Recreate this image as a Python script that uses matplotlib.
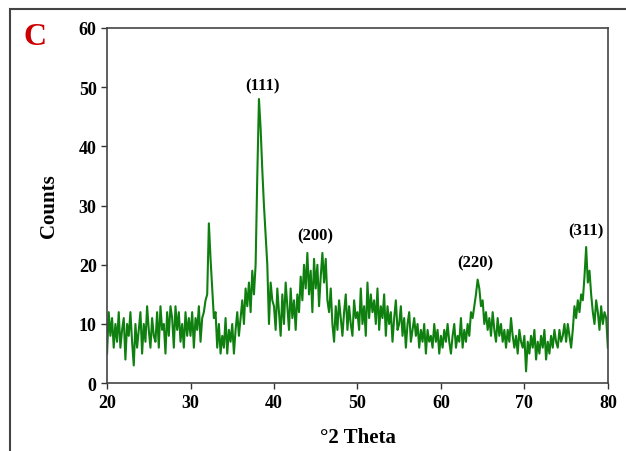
import numpy as np
import matplotlib
matplotlib.use("Agg")
import matplotlib.pyplot as plt
from matplotlib.patches import Rectangle

# 2-theta from 20 to 80 in 0.2 degree steps
theta_start = 20.0
theta_step = 0.2
counts = [
    5, 12, 8, 11, 6,
    10, 7, 12, 6, 9,
    11, 4, 10, 8, 12,
    7, 3, 10, 6, 9,
    12, 5, 10, 7, 13,
    9, 6, 11, 8, 7,
    12, 6, 13, 9, 10,
    5, 12, 8, 13, 11,
    6, 13, 9, 12, 7,
    10, 6, 12, 8, 11,
    8, 12, 6, 11, 9,
    13, 7, 11, 12, 14,
    15, 27, 21, 16, 11,
    12, 6, 10, 5, 8,
    6, 11, 5, 9, 7,
    10, 5, 9, 12, 8,
    11, 14, 10, 16, 13,
    17, 12, 19, 15, 20,
    35, 48, 43, 36, 30,
    25, 20, 10, 17, 14,
    13, 9, 16, 12, 8,
    15, 10, 17, 13, 9,
    16, 11, 14, 9, 15,
    12, 18, 14, 20, 16,
    22, 15, 19, 12, 21,
    16, 20, 13, 18, 22,
    17, 21, 14, 12, 16,
    10, 7, 13, 9, 14,
    11, 8, 12, 15, 9,
    13, 10, 8, 14, 11,
    12, 9, 16, 10, 13,
    8, 17, 11, 15, 12,
    14, 10, 16, 9, 13,
    11, 15, 8, 13, 10,
    12, 7, 11, 14, 9,
    10, 13, 8, 11, 6,
    10, 12, 7, 9, 11,
    8, 10, 6, 9, 7,
    10, 5, 9, 7, 8,
    6, 10, 7, 9, 5,
    8, 6, 9, 7, 10,
    7, 5, 8, 10, 6,
    8, 7, 11, 6, 9,
    7, 10, 8, 12, 11,
    13, 15, 17.5, 16, 13,
    14, 10, 12, 9, 11,
    8, 12, 9, 7, 11,
    8, 10, 7, 9, 6,
    9, 7, 11, 8, 6,
    8, 5, 9, 7, 6,
    8, 2, 7, 5, 8,
    6, 9, 4, 7, 5,
    8, 6, 9, 4, 7,
    5, 8, 6, 9, 7,
    6, 9, 7, 8, 10,
    7, 10, 8, 6, 9,
    13, 11, 14, 12, 15,
    14, 18, 23, 17, 19,
    15, 12, 10, 14, 12,
    9, 13, 10, 12, 11,
    6,
]
theta = theta_start + theta_step * np.arange(len(counts))

peak_labels = ["(111)", "(200)", "(220)", "(311)"]
peak_x = [38.6, 44.9, 64.1, 77.4]
peak_y = [49.0, 23.6, 19.0, 24.4]

x_ticks = [20, 30, 40, 50, 60, 70, 80]
y_ticks = [0, 10, 20, 30, 40, 50, 60]

serif = ["Liberation Serif", "DejaVu Serif"]

fig = plt.figure(figsize=(6.26, 4.52), dpi=100)
ax = fig.add_axes([0.171, 0.150, 0.800, 0.786])

ax.plot(theta, counts, color="#0f800f", linewidth=1.5)

ax.set_xlim(20, 80)
ax.set_ylim(0, 60)
ax.set_xticks(x_ticks)
ax.set_yticks(y_ticks)
ax.tick_params(direction="out", length=4, width=1.0, colors="#333333",
               labelcolor="black", top=False, right=False)
for lab in ax.get_xticklabels() + ax.get_yticklabels():
    lab.set_fontfamily(serif)
    lab.set_fontweight("bold")
    lab.set_fontsize(13)
for sp in ax.spines.values():
    sp.set_color("#444444")
    sp.set_linewidth(1.2)

for t, x, y in zip(peak_labels, peak_x, peak_y):
    ax.text(x, y, t, ha="center", va="bottom", fontsize=12,
            fontweight="bold", family=serif)

ax.set_xlabel("°2 Theta", fontsize=15, fontweight="bold", family=serif,
              labelpad=12)
ax.set_ylabel("Counts", fontsize=15, fontweight="bold", family=serif,
              labelpad=14)

fig.text(0.056, 0.918, "C", color="#cc0000", fontsize=23, fontweight="bold",
         family=serif, ha="center", va="center")

fig.patches.append(Rectangle((10 / 626, -0.1), 1.2, 1.1 - 10 / 452,
                             transform=fig.transFigure, fill=False,
                             edgecolor="#444444", linewidth=1.5))

fig.savefig("out.png", dpi=100)
